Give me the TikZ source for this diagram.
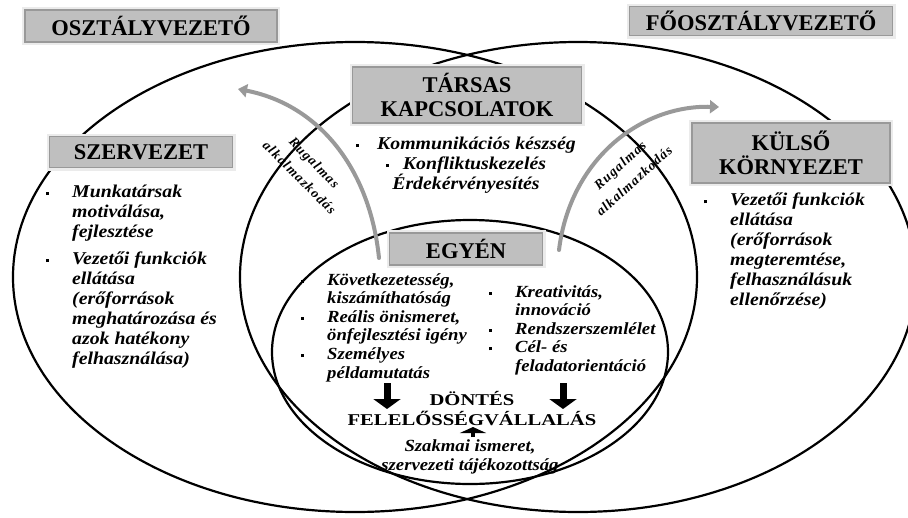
\documentclass[tikz,border=0pt]{standalone}
\usepackage{fontspec}
\setmainfont{Liberation Serif}
\newfontfamily\nyujtott[FakeStretch=1.1]{Liberation Serif}
\newfontfamily\szeles[FakeStretch=1.25]{Liberation Serif}
\newfontfamily\ritkitott[LetterSpace=9]{Liberation Serif}
\usetikzlibrary{arrows.meta}
\usetikzlibrary{shadows}
\usetikzlibrary{positioning}

\newcommand{\pont}{\rule[0.3ex]{3pt}{3pt}}
\newcommand{\elem}{\llap{\pont\hspace{23pt}}}
\newcommand{\listafont}{\nyujtott\bfseries\itshape\fontsize{18}{20}\selectfont}
\newcommand{\belsofont}{\nyujtott\bfseries\itshape\fontsize{17}{18.6}\selectfont}
\newcommand{\rugfont}{\ritkitott\bfseries\itshape\fontsize{13.5}{21}\selectfont}

\tikzstyle{fejlec} = [fill=black!25, draw=black!40, line width=1.2pt,
  drop shadow={shadow xshift=2pt, shadow yshift=-2pt, opacity=0.25},
  preaction={draw=black!8, line width=6pt},
  font=\bfseries\fontsize{22.5}{24}\selectfont, align=center, inner sep=0pt]
\tikzstyle{blokk} = [line width=7pt, -{Triangle[width=27pt,length=10pt]}]

\begin{document}
\begin{tikzpicture}[x=1pt, y=-1pt,
		halmaz/.style = {line width=2.2pt},
		lista/.style = {anchor=north west, align=left, inner sep=0pt, font=\listafont},
		rugalmas/.style = {draw=black!40, line width=4pt, line cap=round,
			-{Triangle[length=9pt,width=13pt]}}]

		\useasboundingbox (0,0) rectangle (908,517);

		% Osztályvezető és főosztályvezető
		\draw[halmaz] (355,277) ellipse [x radius=342, y radius=235];
		\draw[halmaz] (578,277) ellipse [x radius=338, y radius=235];

		% Egyén
		\draw[halmaz] (470,352) ellipse [x radius=198, y radius=132];

		% Rugalmas alkalmazkodás nyilak
		\coordinate (baltalp) at (379,258);
		\coordinate (balfej) at (238,89);
		\coordinate (jobbtalp) at (559,250);
		\coordinate (jobbfej) at (719,107);
		\draw[rugalmas] (baltalp) .. controls (370,170) and (320,105) .. (balfej);
		\draw[rugalmas] (jobbtalp) .. controls (570,160) and (640,105) .. (jobbfej);

		% Címkék
		\node[fejlec, minimum width=252, minimum height=32] (osztaly) at (151,26) {OSZTÁLYVEZETŐ};
		\node[fejlec, minimum width=263, minimum height=29] (foosztaly) at (761,21) {FŐOSZTÁLYVEZETŐ};
		\node[fejlec, minimum width=229, minimum height=56] (tarsas) at (467,95) {TÁRSAS\\KAPCSOLATOK};
		\node[fejlec, minimum width=183, minimum height=31] (szervezet) at (141,152) {SZERVEZET};
		\node[fejlec, minimum width=198, minimum height=60] (kulso) at (791,153) {KÜLSŐ\\KÖRNYEZET};
		\node[fejlec, minimum width=153, minimum height=32] (egyen) at (466,249) {EGYÉN};

		% Felsorolások
		\node[anchor=north, align=center, inner sep=0pt, font=\listafont] (tarsaslista) at (466,137)
			{\pont\hspace{18pt}Kommunikációs készség\\ \pont\hspace{14pt}Konfliktuskezelés\\ Érdekérvényesítés};
		\node[lista] (szervlista) at (72,185)
			{\elem Munkatársak\\ motiválása,\\ fejlesztése\\[7pt]
			 \elem Vezetői funkciók\\ ellátása\\ (erőforrások\\ meghatározása és\\ azok hatékony\\ felhasználása)};
		\node[lista] (kulsolista) at (730,193)
			{\elem Vezetői funkciók\\ ellátása\\ (erőforrások\\ megteremtése,\\ felhasználásuk\\ ellenőrzése)};
		\node[lista, font=\belsofont] (egyenbal) at (327,273)
			{\elem Következetesség,\\ kiszámíthatóság\\ \elem Reális önismeret,\\ önfejlesztési igény\\
			 \elem Személyes\\ példamutatás};
		\node[lista, font=\belsofont] (egyenjobb) at (515,285)
			{\elem Kreativitás,\\ innováció\\ \elem Rendszerszemlélet\\ \elem Cél- és\\ feladatorientáció};

		% Döntés
		\node[align=center, inner sep=0pt, font=\szeles\bfseries\fontsize{16.5}{20}\selectfont] (dontes) at (472,409)
			{DÖNTÉS\\FELELŐSSÉGVÁLLALÁS};
		\node[align=center, inner sep=0pt, font=\belsofont] (szakmai) at (470,457)
			{Szakmai ismeret,\\ szervezeti tájékozottság};

		\coordinate (bal1) at (387,383);
		\coordinate (bal2) at (387,409);
		\coordinate (jobb1) at (563,383);
		\coordinate (jobb2) at (563,409);
		\coordinate (fel1) at (473,437);
		\coordinate (fel2) at (473,427);
		\draw[blokk] (bal1) -- (bal2);
		\draw[blokk] (jobb1) -- (jobb2);
		\draw[line width=4pt, -{Triangle[width=26pt,length=6pt]}] (fel1) -- (fel2);

		\node[rotate=-45, align=center, inner sep=0pt, font=\rugfont] (rugbal) at (307,170) {Rugalmas\\alkalmazkodás};
		\node[rotate=42, align=center, inner sep=0pt, font=\rugfont] (rugjobb) at (627,173) {Rugalmas\\alkalmazkodás};
\end{tikzpicture}
\end{document}
